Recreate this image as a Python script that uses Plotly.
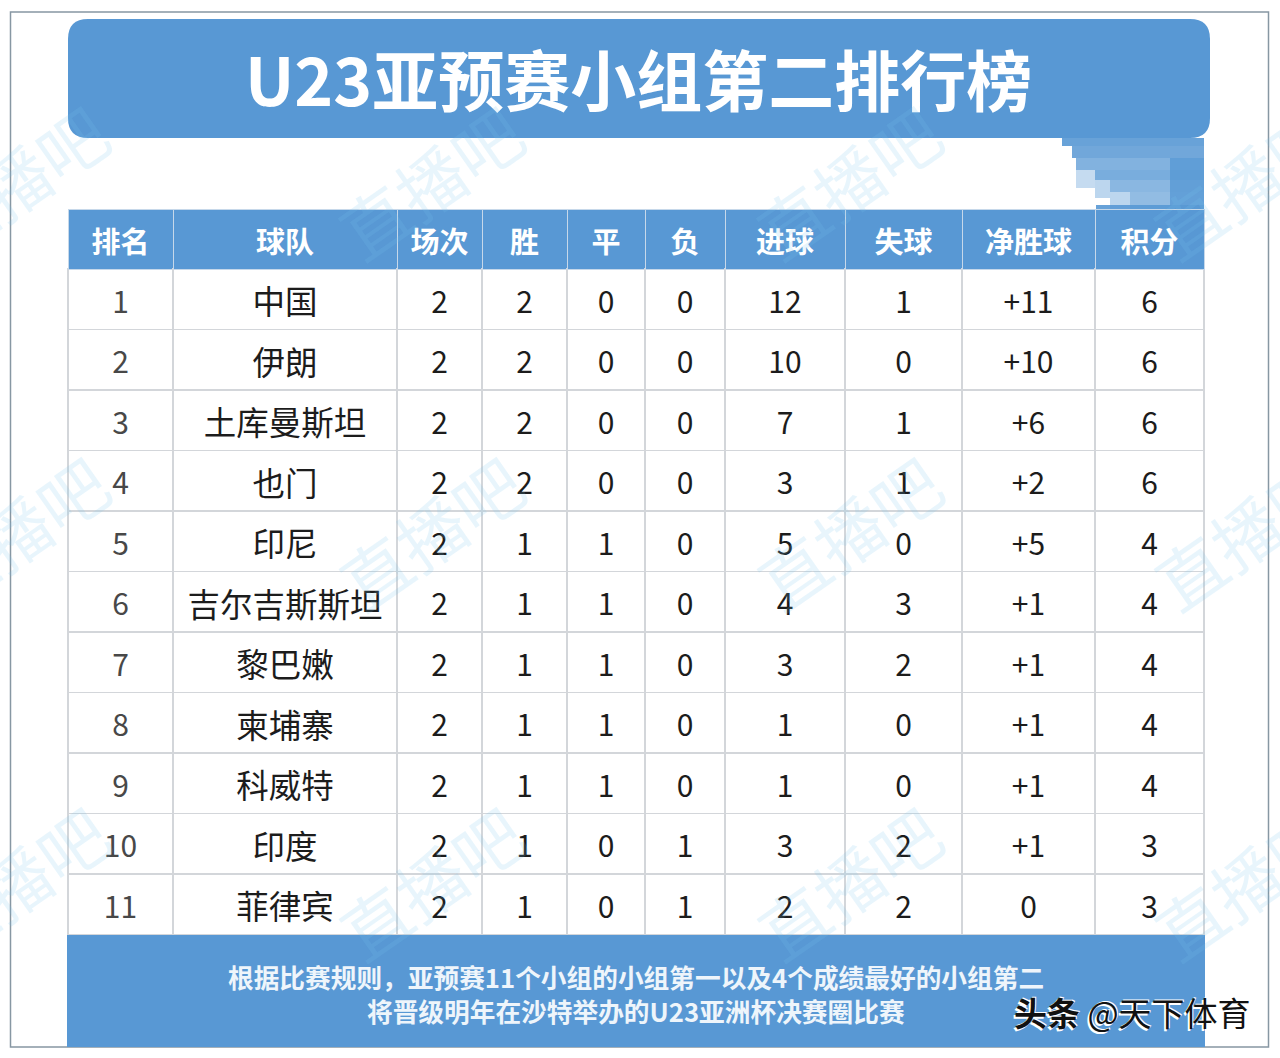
import plotly.graph_objects as go

W, H = 1280, 1058
FONT = "Noto Sans CJK SC"
BLUE = "#5898d4"

title_text = "U23亚预赛小组第二排行榜"
headers = ["排名", "球队", "场次", "胜", "平", "负", "进球", "失球", "净胜球", "积分"]
ranks = ["1", "2", "3", "4", "5", "6", "7", "8", "9", "10", "11"]
teams = ["中国", "伊朗", "土库曼斯坦", "也门", "印尼", "吉尔吉斯斯坦", "黎巴嫩", "柬埔寨", "科威特", "印度", "菲律宾"]
played = [2, 2, 2, 2, 2, 2, 2, 2, 2, 2, 2]
wins = [2, 2, 2, 2, 1, 1, 1, 1, 1, 1, 1]
draws = [0, 0, 0, 0, 1, 1, 1, 1, 1, 0, 0]
losses = [0, 0, 0, 0, 0, 0, 0, 0, 0, 1, 1]
goals_for = [12, 10, 7, 3, 5, 4, 3, 1, 1, 3, 2]
goals_against = [1, 0, 1, 1, 0, 3, 2, 0, 0, 2, 2]
goal_diff = ["+11", "+10", "+6", "+2", "+5", "+1", "+1", "+1", "+1", "+1", "0"]
points = [6, 6, 6, 6, 4, 4, 4, 4, 4, 3, 3]
note_lines = ["根据比赛规则，亚预赛11个小组的小组第一以及4个成绩最好的小组第二",
              "将晋级明年在沙特举办的U23亚洲杯决赛圈比赛"]
credit = "<b>头条</b> @天下体育"
watermark = "直播吧"
column_edges = [68, 173, 397, 482, 567, 645, 725, 845, 962, 1095, 1204]


def fx(px):
    return px / W


def fy(py):
    return 1 - py / H


def rect(x0, y0, x1, y1, color, opacity=1, layer="below"):
    return dict(type="rect", xref="paper", yref="paper", x0=fx(x0), x1=fx(x1), y0=fy(y0), y1=fy(y1),
                fillcolor=color, opacity=opacity, line_width=0, layer=layer)


def rounded(x0, y0, x1, y1, r):
    X0, X1, Y0, Y1 = fx(x0), fx(x1), fy(y0), fy(y1)
    rx, ry = r / W, r / H
    path = (f"M{X0+rx},{Y0} L{X1-rx},{Y0} Q{X1},{Y0} {X1},{Y0-ry} L{X1},{Y1+ry} Q{X1},{Y1} {X1-rx},{Y1} "
            f"L{X0+rx},{Y1} Q{X0},{Y1} {X0},{Y1+ry} L{X0},{Y0-ry} Q{X0},{Y0} {X0+rx},{Y0} Z")
    return dict(type="path", xref="paper", yref="paper", path=path, fillcolor=BLUE, line_width=0, layer="below")


widths = [b - a for a, b in zip(column_edges, column_edges[1:])]
fig = go.Figure(go.Table(
    domain=dict(x=[fx(68), fx(1204)], y=[fy(935), fy(209)]),
    columnwidth=widths,
    header=dict(values=[f"<b>{h}</b>" for h in headers], height=60, fill_color=BLUE,
                line=dict(color="#c6d8ea", width=1), align="center",
                font=dict(family=FONT, size=29, color="white")),
    cells=dict(values=[ranks, teams, played, wins, draws, losses, goals_for, goals_against, goal_diff, points],
               height=60.5, fill_color="white", line=dict(color="#d3d6da", width=1.2), align="center",
               font=dict(family=FONT, color=["#484848"] + ["#1c1c1c"] * 9, size=[30, 32.5] + [30] * 8)),
))

shapes = [
    dict(type="rect", xref="paper", yref="paper", x0=fx(10.5), x1=fx(1268.5), y0=fy(12), y1=fy(1047),
         line=dict(color="#8797a3", width=1.5), layer="below"),
    rounded(68, 19, 1210, 138, 20),
    rect(67, 935, 1205, 1047, BLUE, layer="above"),
]
# smeared patch between banner and header, right end
for x0, y0, x1, y1, op in [(1062, 138, 1204, 146, .9), (1072, 146, 1204, 158, .85), (1076, 158, 1204, 170, .75),
                           (1095, 170, 1204, 180, .8), (1110, 180, 1204, 192, .7), (1130, 192, 1204, 209, .65),
                           (1076, 170, 1095, 188, .35), (1095, 180, 1110, 198, .4), (1110, 192, 1130, 209, .4),
                           (1170, 158, 1204, 209, .8), (1096, 205, 1204, 209, .9)]:
    shapes.append(rect(x0, y0, x1, y1, BLUE, op))

ann = [dict(x=fx(638.5), y=fy(77), text=f"<b>{title_text}</b>",
            font=dict(family=FONT, size=66, color="white")),
       dict(x=fx(636), y=fy(976), text=f"<b>{note_lines[0]}</b>",
            font=dict(family=FONT, size=25.7, color="#eef5fb")),
       dict(x=fx(636), y=fy(1010), text=f"<b>{note_lines[1]}</b>",
            font=dict(family=FONT, size=25.7, color="#eef5fb")),
       dict(x=fx(1132), y=fy(1012), text=credit,
            font=dict(family=FONT, size=33, color="#111111", shadow="-2px 2px 0 #ffffff, 1px -1px 0 #ffffff"))]
for wy in (181, 531, 881):
    for wx in (15, 430, 848, 1245):
        ann.append(dict(x=fx(wx), y=fy(wy), text=watermark, textangle=-35,
                        font=dict(family=FONT, size=68, color="rgba(120,195,235,0.17)")))
for a in ann:
    a.update(xref="paper", yref="paper", xanchor="center", yanchor="middle", showarrow=False)

fig.update_layout(width=W, height=H, margin=dict(l=0, r=0, t=0, b=0), paper_bgcolor="white",
                  plot_bgcolor="white", shapes=shapes, annotations=ann)

page_css = """
var s = document.createElement('style');
s.textContent = 'html,body{margin:0;padding:0;overflow:hidden}'
  + '.column-block:not(#header) .cell-text{transform:translateY(13px)}'
  + '#header .cell-text{transform:translateY(1.5px)}';
document.head.appendChild(s);
"""
fig.write_html("out.html", config=dict(displayModeBar=False), post_script=page_css)
